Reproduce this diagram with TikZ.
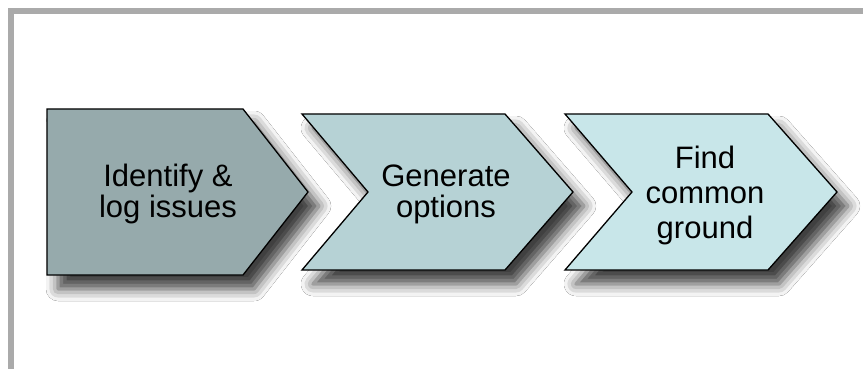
\documentclass[tikz,border=0pt]{standalone}
\usepackage{fontspec}
\setmainfont{Liberation Sans}
\usetikzlibrary{shadows.blur}

\definecolor{frameGray}{RGB}{170,170,170}
\definecolor{stepA}{RGB}{150,170,172}
\definecolor{stepB}{RGB}{182,210,213}
\definecolor{stepC}{RGB}{200,230,233}

\tikzset{
  stepshape/.style={draw=black, line width=1.3pt, line join=miter,
    blur shadow={shadow xshift=11pt, shadow yshift=-14pt,
      shadow blur radius=12pt, shadow opacity=75}},
  steptext/.style={align=center, font=\fontsize{31}{31}\selectfont},
}

\begin{document}
\begin{tikzpicture}[x=1pt, y=-1pt]
  \useasboundingbox (0,0) rectangle (863,369);
  \fill[white] (0,0) rectangle (863,369);
  % Frame (top and left edges only)
  \draw[frameGray, line width=6pt] (11,369) -- (11,11) -- (863,11);
  % Step 1: pentagon arrow
  \draw[stepshape, fill=stepA] (47,109) -- (243,109) -- (308,192) -- (243,275) -- (47,275) -- cycle;
  \node[steptext] (identify) at (168,194) {Identify \&\\log issues};
  % Step 2: chevron
  \draw[stepshape, fill=stepB] (302,114) -- (505,114) -- (573,192) -- (505,270) -- (302,270) -- (368,192) -- cycle;
  \node[steptext] (generate) at (446,194) {Generate\\options};
  % Step 3: chevron
  \draw[stepshape, fill=stepC] (565,114) -- (768,114) -- (837,192) -- (768,270) -- (565,270) -- (632,192) -- cycle;
  \node[steptext, font=\fontsize{31}{35}\selectfont] (common) at (705,195) {Find\\common\\ground};
\end{tikzpicture}
\end{document}
